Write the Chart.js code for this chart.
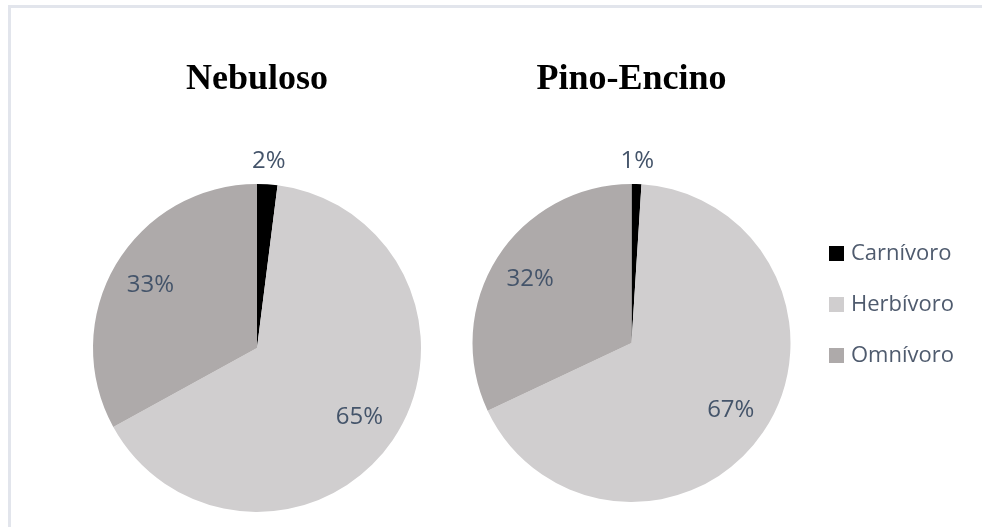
<!DOCTYPE html>
<html>
	<head>
		<meta charset="UTF-8" />
		<title>Nebuloso / Pino-Encino</title>
		<script src="https://cdn.jsdelivr.net/npm/chart.js@4.4.1/dist/chart.umd.min.js"></script>
		<style type="text/css">
			html, body {
				margin: 0;
				background-color: #ffffff;
				width: 982px;
				height: 527px;
				overflow: hidden;
			}
			body {
				position: relative;
			}
			.frame {
				position: absolute;
				left: 8px;
				top: 5px;
				width: 971px;
				height: 519px;
				border-top: 3px solid #e2e5ec;
				border-left: 3px solid #e2e5ec;
			}
			.pieBox {
				position: absolute;
				left: 0;
				top: 0;
				width: 982px;
				height: 527px;
			}
			#legend {
				position: absolute;
				left: 829px;
				top: 237px;
				font-family: "Open Sans", sans-serif;
				font-size: 22px;
				color: #4f5b6e;
			}
			#legend div {
				height: 51px;
				line-height: 28px;
				white-space: nowrap;
			}
			#legend span {
				display: inline-block;
				width: 15px;
				height: 15px;
				margin-right: 7px;
				vertical-align: -1px;
			}
		</style>
	</head>
	<body>
		<div class="frame"></div>
		<div class="pieBox"><canvas id="pieLeft"></canvas></div>
		<div class="pieBox"><canvas id="pieRight"></canvas></div>
		<div id="legend"></div>

		<script>
		// data
		const categories = ["Carnívoro", "Herbívoro", "Omnívoro"];
		const nebulosoValues = [2, 65, 33];
		const pinoEncinoValues = [1, 67, 32];
		const sliceColors = ["#000000", "#d0cecf", "#aeaaaa"];
		const chartTitles = ["Nebuloso", "Pino-Encino"];

		// percentage labels, small slices go outside like Excel's best fit
		const pctLabels = {
			id: 'pctLabels',
			afterDatasetsDraw(chart) {
				const ctx = chart.ctx;
				const meta = chart.getDatasetMeta(0);
				const vals = chart.data.datasets[0].data;
				const total = vals.reduce((a, b) => a + b, 0);
				ctx.save();
				ctx.font = '24px "Open Sans", sans-serif';
				ctx.fillStyle = '#44546a';
				ctx.textAlign = 'center';
				ctx.textBaseline = 'middle';
				meta.data.forEach((arc, i) => {
					const p = arc.getProps(['x', 'y', 'startAngle', 'endAngle', 'outerRadius'], true);
					const mid = (p.startAngle + p.endAngle) / 2;
					const pct = Math.round(vals[i] / total * 100);
					const dist = pct < 5 ? p.outerRadius + 23 : p.outerRadius * 0.755;
					ctx.fillText(pct + '%', p.x + Math.cos(mid) * dist, p.y + Math.sin(mid) * dist);
				});
				ctx.restore();
			}
		};

		function makePie(id, title, values, pad) {
			const ctx = document.getElementById(id).getContext('2d');
			return new Chart(ctx, {
				type: 'pie',
				data: {
					labels: categories,
					datasets: [{
						data: values,
						backgroundColor: sliceColors,
						borderWidth: 0
					}]
				},
				options: {
					responsive: true,
					maintainAspectRatio: false,
					animation: false,
					layout: { padding: pad },
					plugins: {
						legend: { display: false },
						tooltip: { enabled: false },
						title: {
							display: true,
							text: title,
							color: '#000000',
							font: { family: '"Liberation Serif", "Times New Roman", serif', size: 36, weight: 'bold', lineHeight: 1.2 },
							padding: { top: 0, bottom: 184 - 58 - 43.2 }
						}
					}
				},
				plugins: [pctLabels]
			});
		}

		makePie('pieLeft', chartTitles[0], nebulosoValues, { left: 93, top: 58, right: 561, bottom: 15 });
		makePie('pieRight', chartTitles[1], pinoEncinoValues, { left: 472.5, top: 58, right: 191.5, bottom: 25 });

		// legend built from the same arrays
		const legendBox = document.getElementById('legend');
		categories.forEach((c, i) => {
			const row = document.createElement('div');
			row.innerHTML = '<span style="background:' + sliceColors[i] + '"></span>' + c;
			legendBox.appendChild(row);
		});
		</script>
	</body>
</html>
